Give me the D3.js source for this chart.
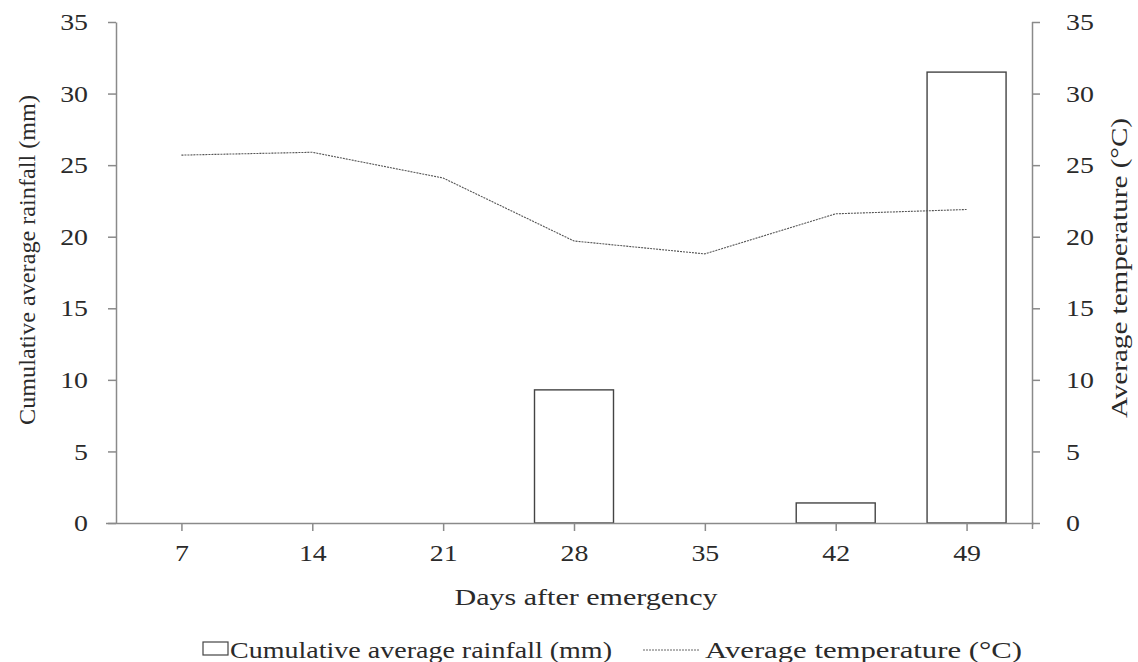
<!DOCTYPE html>
<html><head><meta charset="utf-8">
<script src="https://cdn.jsdelivr.net/npm/d3@7"></script>
</head><body style="margin:0;background:#fff">
<svg id="c" width="1138" height="662" font-family="Liberation Serif" style="display:block"></svg>
<script>
const days = ["7","14","21","28","35","42","49"];
const rainfall = [0,0,0,9.3,0,1.4,31.5];
const temperature = [25.7,25.9,24.1,19.7,18.8,21.6,21.9];
const yTicks = [0,5,10,15,20,25,30,35];

const FONT = "Liberation Serif";
const TXT = "#2a2a2a";
const STRETCH = 1.16;
const svg = d3.select("#c");
const L=116, R=1032, T=22, B=523;
const xc = d3.scalePoint().domain(days).range([L,R]).padding(0.5);
const yL = d3.scaleLinear().domain([0,35]).range([B,T]);
const yR = d3.scaleLinear().domain([0,35]).range([B,T]);
const axisColor="#8a8a8a";
const barW = 79;

// bars
svg.append("g").selectAll("rect").data(days.map((d,i)=>({d,v:rainfall[i]})).filter(o=>o.v>0))
 .join("rect")
 .attr("x",o=>xc(o.d)-barW/2).attr("width",barW)
 .attr("y",o=>yL(o.v)).attr("height",o=>yL(0)-yL(o.v))
 .attr("fill","#fff").attr("stroke","#444").attr("stroke-width",1.4);

// line
const line = d3.line().x((d,i)=>xc(days[i])).y(d=>yR(d));
svg.append("path").datum(temperature).attr("d",line)
 .attr("fill","none").attr("stroke","#555").attr("stroke-width",1.1).attr("stroke-dasharray","2,1");

function styleAxis(g){
  g.attr("font-family",FONT).attr("font-size",24);
  g.select(".domain").attr("stroke",axisColor).attr("stroke-width",1.5);
  g.selectAll(".tick line").attr("stroke",axisColor).attr("stroke-width",1.5);
  g.selectAll(".tick text").attr("font-family",FONT).attr("font-size",24).attr("fill",TXT);
}
const ax = svg.append("g").attr("transform",`translate(0,${B})`)
 .call(d3.axisBottom(xc).tickSizeInner(8).tickSizeOuter(0).tickPadding(13));
styleAxis(ax);
ax.select(".domain").attr("d",`M${L-10},0.5H${R+2}`);

const al = svg.append("g").attr("transform",`translate(${L},0)`)
 .call(d3.axisLeft(yL).tickValues(yTicks).tickSizeInner(8).tickSizeOuter(0).tickPadding(20));
styleAxis(al);
const ar = svg.append("g").attr("transform",`translate(${R},0)`)
 .call(d3.axisRight(yR).tickValues(yTicks).tickSizeInner(8).tickSizeOuter(0).tickPadding(26));
styleAxis(ar);
ar.select(".domain").attr("d",`M0.5,${T}V${B+6}`);

// widen horizontal tick labels like the reference's glyphs
svg.selectAll(".tick text").each(function(){
  const w = this.getComputedTextLength();
  d3.select(this).attr("textLength", w*STRETCH).attr("lengthAdjust","spacingAndGlyphs");
});

function label(x,y,txt,len,anchor,rot){
  const t = svg.append("text").attr("font-family",FONT).attr("font-size",24).attr("fill",TXT)
    .attr("text-anchor",anchor||"start").text(txt)
    .attr("textLength",len).attr("lengthAdjust","spacingAndGlyphs");
  if(rot) t.attr("transform",`translate(${x},${y}) rotate(-90)`);
  else t.attr("x",x).attr("y",y);
  return t;
}
// titles
label(35,260,"Cumulative average rainfall (mm)",330,"middle",true);
label(1127,268,"Average temperature (°C)",300,"middle",true);
label(586,605,"Days after emergency",263,"middle");

// legend
svg.append("rect").attr("x",203).attr("y",642).attr("width",25).attr("height",13)
 .attr("fill","#fff").attr("stroke","#444").attr("stroke-width",1.2);
label(230,658,"Cumulative average rainfall (mm)",382,"start");
svg.append("line").attr("x1",643).attr("x2",700).attr("y1",650).attr("y2",650)
 .attr("stroke","#666").attr("stroke-width",1).attr("stroke-dasharray","2,1");
label(705,658,"Average temperature (°C)",317,"start");
</script></body></html>
